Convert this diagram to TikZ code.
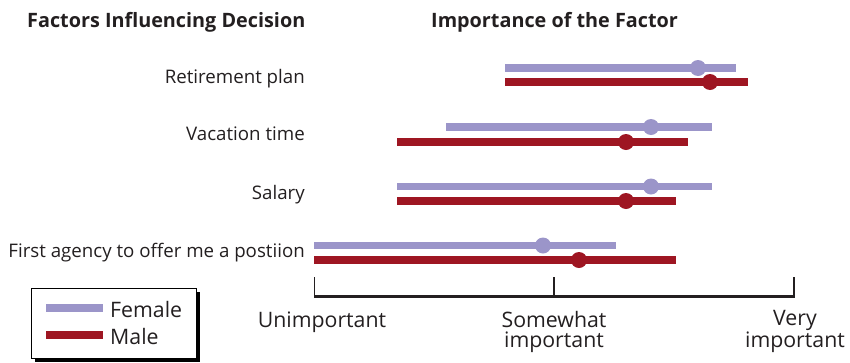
\documentclass[tikz,border=0pt]{standalone}
\usepackage{fontspec}
\setmainfont{Open Sans}
\definecolor{fem}{HTML}{9B95C9}
\definecolor{mal}{HTML}{9E1622}
\definecolor{txt}{HTML}{231F20}
\begin{document}
\begin{tikzpicture}[x=1pt,y=-1pt,
  lbl/.style={inner sep=0, text=txt, font=\fontsize{18.7}{20}\selectfont},
  ttl/.style={inner sep=0, text=txt, font=\fontsize{19.8}{22}\selectfont\bfseries},
  axl/.style={inner sep=0, text=txt, align=center, font=\fontsize{21.3}{20}\selectfont},
  fbar/.style={draw=fem, line width=7.5pt},
  mbar/.style={draw=mal, line width=7.5pt},
  fdot/.style={fill=fem},
  mdot/.style={fill=mal}]
\useasboundingbox (0,0) rectangle (850,362);
% titles
\node[ttl, anchor=base west] (t1) at (27,27) {Factors Influencing Decision};
\node[ttl, anchor=base west] (t2) at (431,27) {Importance of the Factor};
% category labels
\node[lbl, anchor=base east] (c1) at (305,83) {Retirement plan};
\node[lbl, anchor=base east] (c2) at (305,140) {Vacation time};
\node[lbl, anchor=base east] (c3) at (305,199) {Salary};
\node[lbl, anchor=base east] (c4) at (305,257) {First agency to offer me a postiion};
% bars
\draw[fbar] (505,68) -- (736,68);  \fill[fdot] (698,68) circle (8);
\draw[mbar] (505,82) -- (748,82);  \fill[mdot] (710,82) circle (8);
\draw[fbar] (446,127) -- (712,127); \fill[fdot] (651,127) circle (8);
\draw[mbar] (397,142) -- (688,142); \fill[mdot] (626,142) circle (8);
\draw[fbar] (397,186.5) -- (712,186.5); \fill[fdot] (651,186.5) circle (8);
\draw[mbar] (397,201) -- (676,201); \fill[mdot] (626,201) circle (8);
\draw[fbar] (314,245.5) -- (616,245.5); \fill[fdot] (543,245.5) circle (8);
\draw[mbar] (314,260) -- (676,260); \fill[mdot] (579,260) circle (8);
% axis
\draw[txt, line width=1.2pt] (314.5,277) -- (314.5,297);
\draw[txt, line width=1.2pt] (554,277) -- (554,297);
\draw[txt, line width=1.2pt] (794,277) -- (794,297);
\draw[txt, line width=3pt] (314,296.5) -- (794.6,296.5);
\node[axl, anchor=base] (a1) at (322,327) {Unimportant};
\node[axl, anchor=base] (a2) at (554,347) {Somewhat\\important};
\node[axl, anchor=base] (a3) at (795,347) {Very\\important};
% legend
\fill[black] (35,292) rectangle (200,362);
\draw[black, fill=white, line width=0.8pt] (31,288) rectangle (196,358);
\draw[fbar] (46,308) -- (103,308);
\draw[mbar] (46,335) -- (103,335);
\node[axl, anchor=base west] (l1) at (110,317) {Female};
\node[axl, anchor=base west] (l2) at (110,344) {Male};
\end{tikzpicture}
\end{document}
